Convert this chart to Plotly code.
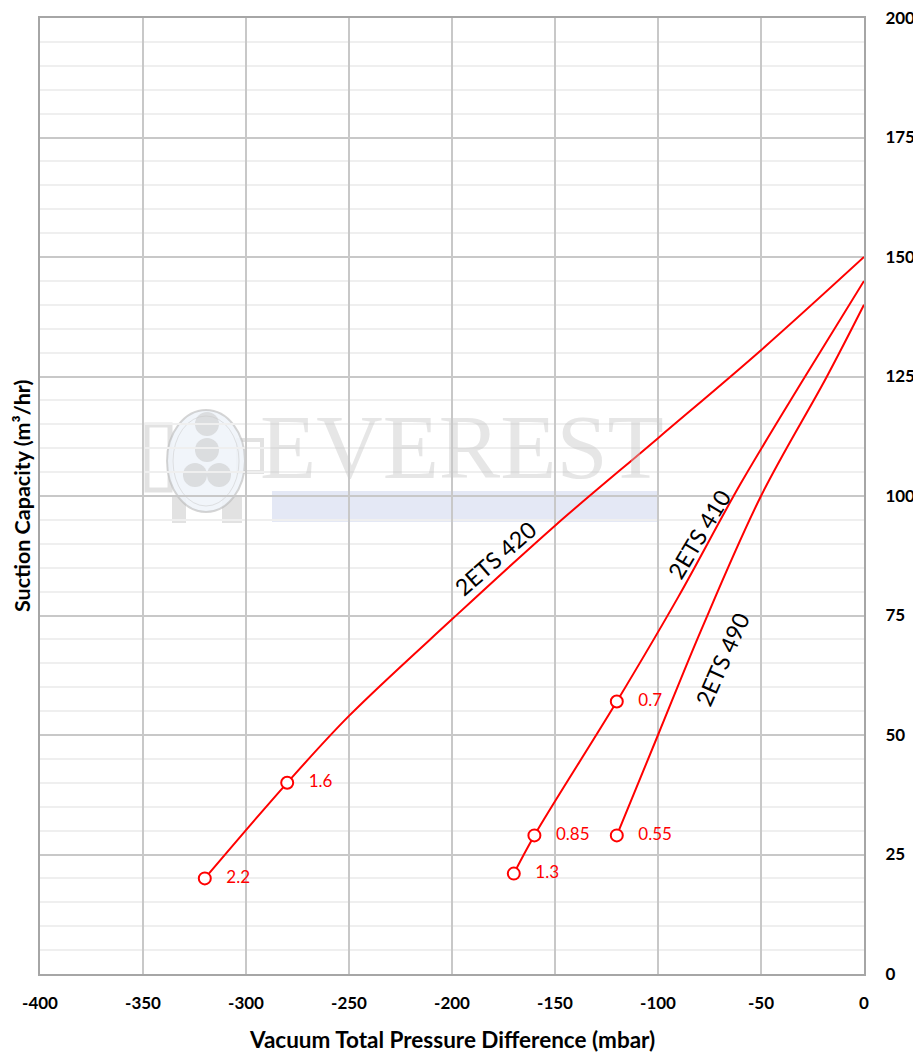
import plotly.graph_objects as go

# ---------------- data ----------------
curve420_x = [-320, -280, -250, -200, -150, -100, -50, 0]
curve420_y = [20, 40, 54, 74.2, 93.8, 112.1, 130.5, 150]

curve410_x = [-170, -160, -120, -90, -60, -30, 0]
curve410_y = [21, 29, 57, 79, 102.5, 124, 145]

curve490_x = [-120, -100, -79, -50, -18, 0]
curve490_y = [29, 50, 72, 100, 125, 140]

pts420_x = [-320, -280]
pts420_y = [20, 40]
pts420_lbl = ["2.2", "1.6"]

pts410_x = [-170, -160, -120]
pts410_y = [21, 29, 57]
pts410_lbl = ["1.3", "0.85", "0.7"]

pts490_x = [-120]
pts490_y = [29]
pts490_lbl = ["0.55"]

series_names = ["2ETS 420", "2ETS 410", "2ETS 490"]
series_lbl_x = [-179, -80, -69]
series_lbl_y = [87, 92, 66]
series_lbl_angle = [-41, -59, -66]

x_ticks = [-400, -350, -300, -250, -200, -150, -100, -50, 0]
y_ticks = [0, 25, 50, 75, 100, 125, 150, 175, 200]

RED = "#ff0000"
FONT = "Lato"

fig = go.Figure()

# watermark helpers (screen pixel -> data)
def X(px):
    return (px - 40) / 824 * 400 - 400

def Y(py):
    return (974 - py) / 956 * 200

shapes = []
# blue band
shapes.append(dict(type="rect", x0=X(272), x1=X(658), y0=Y(522), y1=Y(491),
                   fillcolor="rgba(205,213,237,0.55)", line_width=0, layer="below"))
# logo brackets
gray = "rgba(190,190,190,0.45)"
shapes.append(dict(type="rect", x0=X(147), x1=X(170), y0=Y(490), y1=Y(425),
                   fillcolor="rgba(0,0,0,0)", line=dict(color=gray, width=5), layer="below"))
shapes.append(dict(type="rect", x0=X(238), x1=X(262), y0=Y(472), y1=Y(440),
                   fillcolor="rgba(0,0,0,0)", line=dict(color=gray, width=4), layer="below"))
shapes.append(dict(type="rect", x0=X(172), x1=X(186), y0=Y(523), y1=Y(495),
                   fillcolor=gray, line_width=0, layer="below"))
shapes.append(dict(type="rect", x0=X(222), x1=X(242), y0=Y(523), y1=Y(495),
                   fillcolor=gray, line_width=0, layer="below"))
# logo oval
shapes.append(dict(type="circle", x0=X(167), x1=X(245), y0=Y(512), y1=Y(410),
                   fillcolor="rgba(240,244,250,0.9)", line=dict(color="rgba(185,185,185,0.6)", width=2),
                   layer="below"))
shapes.append(dict(type="circle", x0=X(173), x1=X(239), y0=Y(506), y1=Y(416),
                   fillcolor="rgba(0,0,0,0)", line=dict(color="rgba(200,200,200,0.5)", width=1),
                   layer="below"))
for cx, cy in [(207, 424), (207, 450), (195, 475), (219, 475)]:
    shapes.append(dict(type="circle", x0=X(cx - 12), x1=X(cx + 12), y0=Y(cy + 12), y1=Y(cy - 12),
                       fillcolor="rgba(200,200,200,0.55)", line_width=0, layer="below"))

# curves
for cx, cy in [(curve420_x, curve420_y), (curve410_x, curve410_y), (curve490_x, curve490_y)]:
    fig.add_trace(go.Scatter(x=cx, y=cy, mode="lines",
                             line=dict(color=RED, width=2, shape="spline", smoothing=1.0),
                             hoverinfo="skip", showlegend=False))

# markers with labels
for px_, py_, lb in [(pts420_x, pts420_y, pts420_lbl), (pts410_x, pts410_y, pts410_lbl),
                     (pts490_x, pts490_y, pts490_lbl)]:
    fig.add_trace(go.Scatter(x=px_, y=py_, mode="markers+text",
                             text=["   " + t for t in lb], textposition="middle right",
                             textfont=dict(family=FONT, size=17, color=RED),
                             marker=dict(size=12, color="white", line=dict(color=RED, width=2)),
                             showlegend=False))

annotations = []
# watermark text
annotations.append(dict(x=X(462), y=Y(447), xref="x", yref="y", text="EVEREST", showarrow=False,
                        font=dict(family="Liberation Serif", size=92, color="rgba(200,200,200,0.45)")))
for name, lx, ly, ang in zip(series_names, series_lbl_x, series_lbl_y, series_lbl_angle):
    annotations.append(dict(x=lx, y=ly, xref="x", yref="y", text=name, showarrow=False,
                            textangle=ang, font=dict(family=FONT, size=23, color="black")))

annotations.append(dict(x=0.5, y=-0.069, xref="paper", yref="paper",
                        text="<b>Vacuum Total Pressure Difference (mbar)</b>", showarrow=False,
                        yanchor="middle", font=dict(family=FONT, size=22.5, color="black")))
annotations.append(dict(x=-0.0218, y=0.5, xref="paper", yref="paper",
                        text="<b>Suction Capacity (m³/hr)</b>", showarrow=False, textangle=-90,
                        xanchor="center", font=dict(family=FONT, size=21.5, color="black")))

# page body has an 8px margin, so the figure is sized/offset to compensate
fig.update_layout(
    width=913, height=1047,
    margin=dict(l=32, r=57, t=10, b=81),
    plot_bgcolor="white", paper_bgcolor="white",
    shapes=shapes, annotations=annotations,
    showlegend=False,
)
fig.update_xaxes(range=[-400, 0], tickvals=x_ticks, ticktext=[str(v) for v in x_ticks],
                 automargin=False, ticklabeloverflow="allow",
                 showgrid=True, gridcolor="#c8c8c8", gridwidth=2,
                 showline=True, linecolor="#a6a6a6", linewidth=2, mirror=True,
                 zeroline=False, ticks="outside", ticklen=13, tickcolor="rgba(0,0,0,0)",
                 tickfont=dict(family=FONT, size=17, color="black", weight="bold"))
fig.update_yaxes(range=[0, 200], side="right", tickvals=y_ticks, ticktext=[str(v) for v in y_ticks],
                 automargin=False, ticklabeloverflow="allow",
                 showgrid=True, gridcolor="#c8c8c8", gridwidth=2,
                 minor=dict(dtick=5, showgrid=True, gridcolor="#efefef", gridwidth=1.5),
                 showline=True, linecolor="#a6a6a6", linewidth=2, mirror=True,
                 zeroline=False, ticks="outside", ticklen=16, tickcolor="rgba(0,0,0,0)",
                 tickfont=dict(family=FONT, size=17, color="black", weight="bold"))

fig.write_html("out.html")
